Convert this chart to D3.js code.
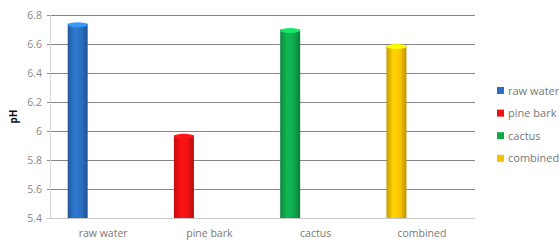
<!DOCTYPE html>
<html>
<head>
<meta charset="utf-8">
<script src="https://cdn.jsdelivr.net/npm/d3@7"></script>
<style>
  body { margin: 0; background: #fff; }
  text { font-family: "Open Sans", sans-serif; }
</style>
</head>
<body>
<div id="chart-area"></div>
<script>
var w = 559;
var h = 242;

// data
var categories = ["raw water", "pine bark", "cactus", "combined"];
var phValues = [6.74, 5.97, 6.70, 6.59];
var barColors = ["#2a6fbf", "#ee1111", "#0fa84c", "#f7c300"];
var yTicks = [5.4, 5.6, 5.8, 6, 6.2, 6.4, 6.6, 6.8];

var margin = {left: 50, right: 84, top: 15, bottom: 24};

var svg = d3.select('#chart-area').append('svg')
        .attr('width', w)
        .attr('height', h);

var x = d3.scaleBand()
        .domain(categories)
        .range([margin.left, w - margin.right])
        .padding(0);

// bars sit at the left part of each category slot
var xBar = d3.scaleBand()
        .domain(categories)
        .range([margin.left, w - margin.right])
        .paddingInner(0.812)
        .paddingOuter(0.406)
        .align(0.205);

var y = d3.scaleLinear()
        .domain([5.4, 6.8])
        .range([h - margin.bottom, margin.top]);

// gradients for cylinder look
var defs = svg.append('defs');
barColors.forEach(function(c, i){
  var g = defs.append('linearGradient')
        .attr('id', 'grad' + i)
        .attr('x1', '0%').attr('x2', '100%')
        .attr('y1', '0%').attr('y2', '0%');
  var base = d3.color(c);
  g.append('stop').attr('offset', '0%').attr('stop-color', base.darker(0.6));
  g.append('stop').attr('offset', '35%').attr('stop-color', base.brighter(0.25));
  g.append('stop').attr('offset', '70%').attr('stop-color', base);
  g.append('stop').attr('offset', '100%').attr('stop-color', base.darker(0.8));
});

// gridlines
svg.append('g').selectAll('line')
    .data(yTicks)
    .enter()
    .append('line')
    .attr('x1', margin.left - 3)
    .attr('x2', w - margin.right)
    .attr('y1', d => y(d) + 0.5)
    .attr('y2', d => y(d) + 0.5)
    .attr('stroke', (d, i) => i == 0 ? '#c8c8c8' : '#858585')
    .attr('stroke-width', 1);

svg.append('line')
    .attr('x1', margin.left + 0.5)
    .attr('x2', margin.left + 0.5)
    .attr('y1', y(6.8))
    .attr('y2', y(5.4))
    .attr('stroke', '#d8d8d8');

// y tick labels
svg.append('g').selectAll('text')
    .data(yTicks)
    .enter()
    .append('text')
    .attr('x', margin.left - 8)
    .attr('y', d => y(d) + 4)
    .attr('text-anchor', 'end')
    .attr('font-size', 10.5)
    .attr('fill', '#888')
    .text(d => d);

svg.append('text')
    .attr('transform', 'translate(17,' + (y(6.1)) + ') rotate(-90)')
    .attr('text-anchor', 'middle')
    .attr('font-size', 10)
    .attr('font-weight', 'bold')
    .attr('fill', '#111')
    .text('pH');

// bars
var bars = svg.append('g').selectAll('g')
    .data(phValues)
    .enter()
    .append('g');

bars.append('rect')
    .attr('x', (d, i) => xBar(categories[i]))
    .attr('y', d => y(d))
    .attr('width', xBar.bandwidth())
    .attr('height', d => y(5.4) - y(d))
    .attr('fill', (d, i) => 'url(#grad' + i + ')');

bars.append('ellipse')
    .attr('cx', (d, i) => xBar(categories[i]) + xBar.bandwidth() / 2)
    .attr('cy', d => y(d) + 1)
    .attr('rx', xBar.bandwidth() / 2)
    .attr('ry', 2.5)
    .attr('fill', (d, i) => d3.color(barColors[i]).brighter(0.9));

// x labels
svg.append('g').selectAll('text')
    .data(categories)
    .enter()
    .append('text')
    .attr('x', d => x(d) + x.bandwidth() / 2)
    .attr('y', h - 5)
    .attr('text-anchor', 'middle')
    .attr('font-size', 10.5)
    .attr('fill', '#777')
    .text(d => d);

// legend
var legend = svg.append('g')
    .attr('transform', 'translate(497,87)');
var item = legend.selectAll('g')
    .data(categories)
    .enter()
    .append('g')
    .attr('transform', (d, i) => 'translate(0,' + (i * 22.6) + ')');
item.append('rect')
    .attr('width', 7)
    .attr('height', 7)
    .attr('fill', (d, i) => barColors[i]);
item.append('text')
    .attr('x', 11)
    .attr('y', 7.5)
    .attr('font-size', 11)
    .attr('fill', '#777')
    .text(d => d);
</script>
</body>
</html>
